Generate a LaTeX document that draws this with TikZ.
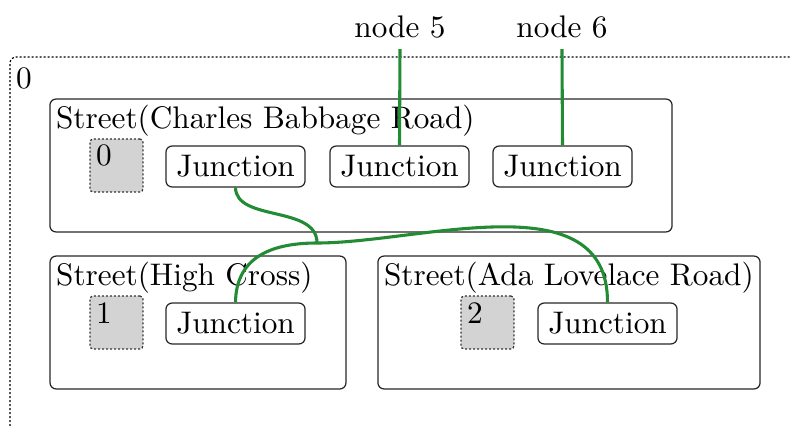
\documentclass[tikz,border=0pt]{standalone}
\usetikzlibrary{positioning}
\definecolor{boxgray}{RGB}{211,211,211}
\definecolor{wire}{RGB}{34,139,52}
\begin{document}
\begin{tikzpicture}[x=0.325pt,y=-0.325pt,
  every node/.style={font=\fontsize{10.15pt}{12pt}\selectfont},
  finedots/.style={dash pattern=on 0.65pt off 0.65pt},
  street/.style={draw=black!85,line width=0.4pt,rounded corners=2pt,minimum height=43.2pt,inner sep=0pt},
  junction/.style={draw=black!85,line width=0.4pt,rounded corners=2pt,minimum width=45.2pt,minimum height=13.3pt,inner sep=0pt},
  graybox/.style={draw=black!80,finedots,line width=0.4pt,fill=boxgray,rounded corners=1pt,minimum width=17.2pt,minimum height=17.2pt,inner sep=0pt},
  title/.style={anchor=north west,inner sep=2pt},
  idlabel/.style={anchor=north west,inner sep=2pt},
  wirestyle/.style={draw=wire,line width=1pt}
]
\useasboundingbox (0,0) rectangle (790,425);
% outer container (clipped)
\draw[finedots,line width=0.4pt,rounded corners=2pt] (10,430) -- (10,57) -- (795,57);
\node (outerlabel) at (24,78) {0};

% streets
\node[street,minimum width=202.2pt] (s1) at (361,165.5) {};
\node[street,minimum width=96.2pt] (s2) at (198,322.5) {};
\node[street,minimum width=124.2pt] (s3) at (569,322.5) {};
\node[title] (t1) at (s1.north west) {Street(Charles Babbage Road)};
\node[title] (t2) at (s2.north west) {Street(High Cross)};
\node[title] (t3) at (s3.north west) {Street(Ada Lovelace Road)};

% id boxes
\node[graybox] (g0) at (116.5,165.5) {};
\node[graybox] (g1) at (116.5,322.5) {};
\node[graybox] (g2) at (487.5,322.5) {};
\node[idlabel] (l0) at (g0.north west) {0};
\node[idlabel] (l1) at (g1.north west) {1};
\node[idlabel] (l2) at (g2.north west) {2};

% junctions
\node[junction] (j1) at (235.5,166.5) {Junction};
\node[junction] (j2) at (399.5,166.5) {Junction};
\node[junction] (j3) at (562.5,166.5) {Junction};
\node[junction] (j4) at (235.5,323.5) {Junction};
\node[junction] (j5) at (607.5,323.5) {Junction};

% external nodes
\node (n5) at (400,27) {node 5};
\node (n6) at (562,27) {node 6};

% wires
\coordinate (m) at (317,243);
\draw[wirestyle] (n5.south) -- (j2.north);
\draw[wirestyle] (n6.south) -- (j3.north);
\draw[wirestyle] (j1.south) .. controls (236,222) and (317,205) .. (m);
\draw[wirestyle] (j4.north) .. controls (236,255) and (275,243) .. (m)
  .. controls (420,243) and (608,180) .. (j5.north);
\end{tikzpicture}
\end{document}
